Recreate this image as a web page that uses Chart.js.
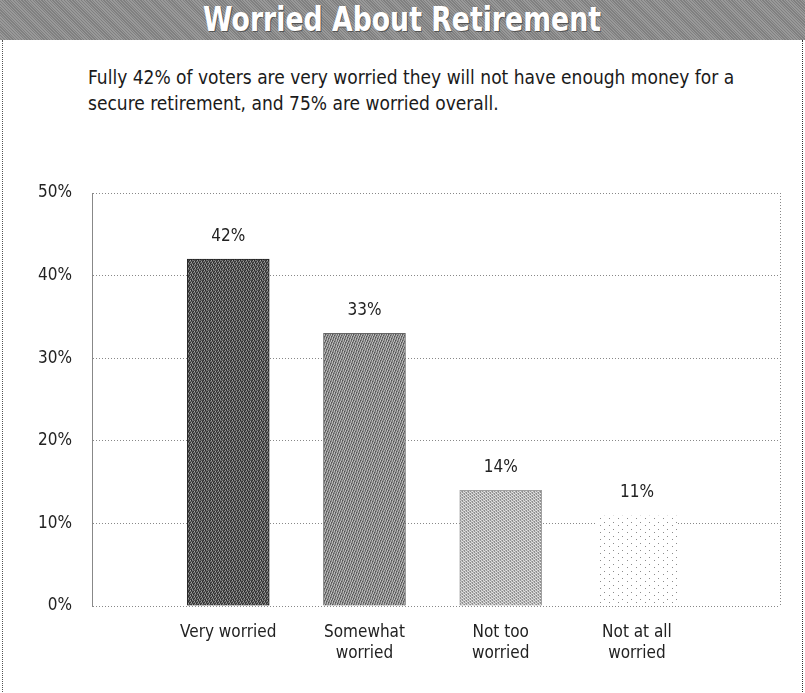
<!DOCTYPE html>
<html>
<head>
<meta charset="utf-8">
<script src="https://cdn.jsdelivr.net/npm/chart.js@4/dist/chart.umd.min.js"></script>
<style>
  html, body { margin: 0; padding: 0; background: #fff; }
  body { width: 805px; height: 693px; position: relative; overflow: hidden;
         font-family: 'Liberation Sans Narrow', 'DejaVu Sans Condensed', 'Roboto Condensed', sans-serif; }
  #header { position: absolute; left: 0; top: 0; width: 805px; height: 40px;
            background-color: #8b8b8b;
            background-image: repeating-linear-gradient(45deg, rgba(255,255,255,0.12) 0 1px, rgba(0,0,0,0.08) 1px 2px);
            text-align: center; }
  #header span { display: inline-block; color: #fff; font-weight: bold; font-size: 33px; line-height: 40px;
                 text-shadow: 1px 1px 0 #555; transform: scaleX(0.9); }
  #box { position: absolute; left: 2px; top: 40px; width: 799px; height: 700px;
         border-left: 1px dotted #555; border-right: 1px dotted #333; }
  #sub { position: absolute; left: 88px; top: 64px; font-size: 19px; line-height: 26px; color: #1a1a1a;
         white-space: nowrap; }
  #wrap { position: absolute; left: 0; top: 150px; width: 805px; height: 543px; }
</style>
</head>
<body>
<div id="header"><span>Worried About Retirement</span></div>
<div id="box"></div>
<div id="sub">Fully 42% of voters are very worried they will not have enough money for a<br>secure retirement, and 75% are worried overall.</div>
<div id="wrap"><canvas id="c"></canvas></div>
<script>
const categories = ['Very worried', 'Somewhat worried', 'Not too worried', 'Not at all worried'];
const categoryLines = [['Very worried'], ['Somewhat', 'worried'], ['Not too', 'worried'], ['Not at all', 'worried']];
const values = [42, 33, 14, 11];
const yTicks = [0, 10, 20, 30, 40, 50];

const FONT = "'Liberation Sans Narrow', 'DejaVu Sans Condensed', 'Roboto Condensed', sans-serif";

function makePattern(w, h, fn) {
  const c = document.createElement('canvas');
  c.width = w; c.height = h;
  const g = c.getContext('2d');
  const img = g.createImageData(w, h);
  for (let y = 0; y < h; y++) {
    for (let x = 0; x < w; x++) {
      const v = fn(x, y);
      const i = (y * w + x) * 4;
      img.data[i] = img.data[i + 1] = img.data[i + 2] = v;
      img.data[i + 3] = 255;
    }
  }
  g.putImageData(img, 0, 0);
  return g.createPattern(c, 'repeat');
}
const pat1 = makePattern(7, 5, (x, y) => [50, 85, 120, 160, 70, 105, 40][(x * 3 + y * 2) % 7]);
const pat2 = makePattern(7, 6, (x, y) => [105, 155, 195, 125, 85, 175, 140][(x * 2 + y * 3) % 7]);
const pat3 = makePattern(6, 6, (x, y) => [150, 200, 230, 170, 140, 215][(x + y * 2) % 6]);
const pat4 = makePattern(9, 7, (x, y) => ((x === 1 && y === 1) || (x === 6 && y === 4)) ? 140 : 255);
const fills = [pat1, pat2, pat3, pat4];
const borders = ['#222', '#666', '#a0a0a0', 'rgba(0,0,0,0)'];

const framePlugin = {
  id: 'frame',
  beforeDatasetsDraw(chart) {
    const a = chart.chartArea, g = chart.ctx;
    g.save();
    g.strokeStyle = '#888';
    g.lineWidth = 1;
    g.setLineDash([1, 2]);
    g.beginPath();
    g.moveTo(Math.round(a.right) + 0.5, a.top);
    g.lineTo(Math.round(a.right) + 0.5, a.bottom);
    g.stroke();
    g.restore();
  }
};
const labelPlugin = {
  id: 'vlabels',
  afterDatasetsDraw(chart) {
    const g = chart.ctx;
    const meta = chart.getDatasetMeta(0);
    g.save();
    g.font = '17px ' + FONT;
    g.fillStyle = '#222';
    g.textAlign = 'center';
    g.textBaseline = 'middle';
    meta.data.forEach((bar, i) => {
      g.fillText(values[i] + '%', bar.x, bar.y - 23);
    });
    g.restore();
  }
};

new Chart(document.getElementById('c'), {
  type: 'bar',
  data: {
    datasets: [{
      data: values.map((v, i) => ({ x: i + 1, y: v })),
      backgroundColor: fills,
      borderColor: borders,
      borderWidth: 1,
      barThickness: 82
    }]
  },
  options: {
    responsive: true,
    maintainAspectRatio: false,
    animation: false,
    layout: { padding: { top: 43, right: 25, left: 0, bottom: 0 } },
    plugins: { legend: { display: false }, tooltip: { enabled: false }, title: { display: false } },
    scales: {
      x: {
        type: 'linear',
        offset: false,
        min: 0,
        max: 5.05,
        afterBuildTicks(scale) { scale.ticks = categories.map((_, i) => ({ value: i + 1 })); },
        afterFit(scale) { scale.height = 87; },
        grid: { display: false },
        border: { display: false },
        ticks: {
          autoSkip: false, maxRotation: 0, padding: 8,
          color: '#222',
          font: { family: FONT, size: 17, lineHeight: 1.25 },
          callback: (v) => categoryLines[v - 1]
        }
      },
      y: {
        min: 0,
        max: 50,
        afterBuildTicks(scale) { scale.ticks = yTicks.map(v => ({ value: v })); },
        afterFit(scale) { scale.width = 92; },
        grid: { color: '#888', lineWidth: 1, drawTicks: false },
        border: { display: true, color: '#888', dash: [1, 2] },
        ticks: {
          padding: 20, color: '#222',
          font: { family: FONT, size: 17 },
          callback: (v) => v + '%'
        }
      }
    }
  },
  plugins: [framePlugin, labelPlugin]
});
</script>
</body>
</html>
